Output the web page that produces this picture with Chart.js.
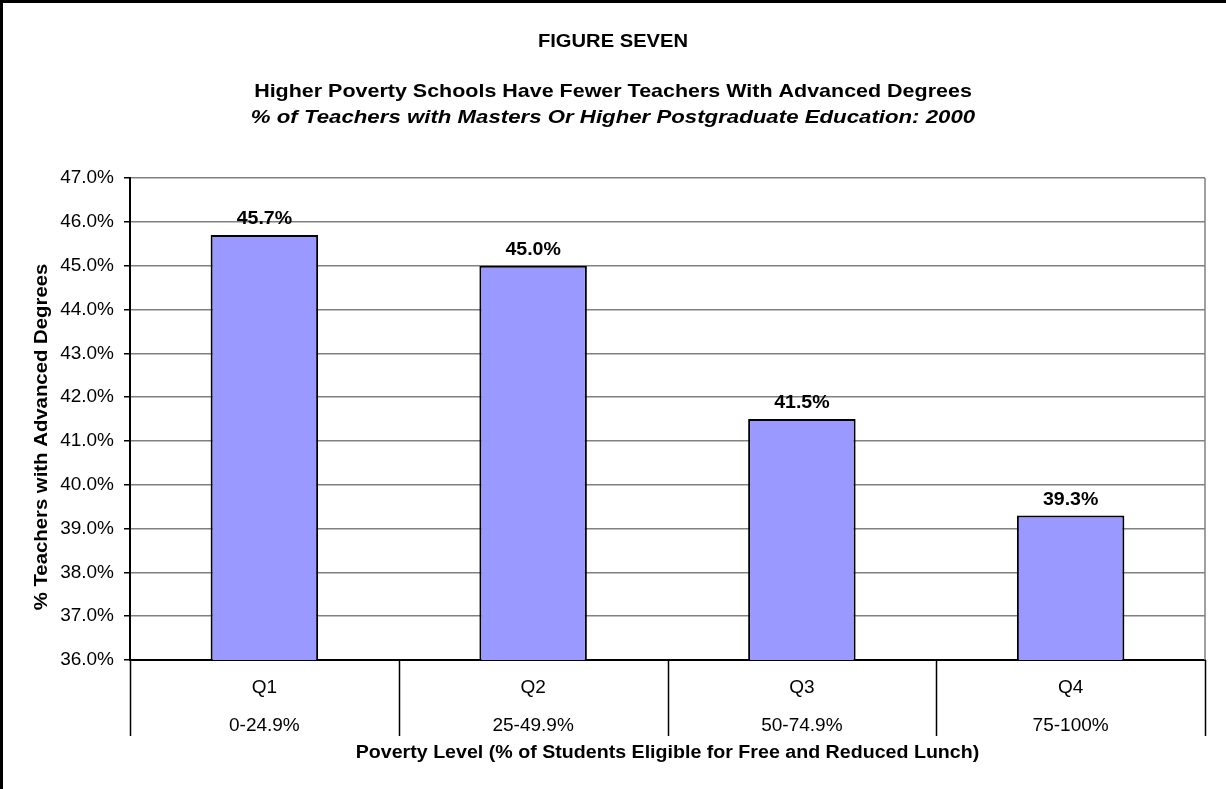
<!DOCTYPE html>
<html>
<head>
<meta charset="utf-8">
<script src="https://cdn.jsdelivr.net/npm/chart.js@4.4.1/dist/chart.umd.min.js"></script>
<style>
  html, body { margin: 0; padding: 0; background: #fff; }
  #wrap { position: relative; width: 1226px; height: 789px; }
</style>
</head>
<body>
<div id="wrap"><canvas id="fig7" width="1226" height="789"></canvas></div>
<script>
// --- datos ---
const quarters = ['Q1', 'Q2', 'Q3', 'Q4'];
const povertyRanges = ['0-24.9%', '25-49.9%', '50-74.9%', '75-100%'];
const pctTeachers = [45.7, 45.0, 41.5, 39.3];
const yMin = 36, yMax = 47, yStep = 1;

const figLabel = 'FIGURE SEVEN';
const mainTitle = 'Higher Poverty Schools Have Fewer Teachers With Advanced Degrees';
const subTitle = '% of Teachers with Masters Or Higher Postgraduate Education: 2000';
const yTitle = '% Teachers with Advanced Degrees';
const xTitle = 'Poverty Level (% of Students Eligible for Free and Reduced Lunch)';

const FONT = '"Liberation Sans", Arial, sans-serif';

// texto centrado, estirado en horizontal para igualar el ancho del original
function wideText(ctx, text, x, y, font, sx, angle) {
    ctx.save();
    ctx.font = font;
    ctx.translate(x, y);
    if (angle) ctx.rotate(angle);
    ctx.scale(sx, 1);
    ctx.fillText(text, 0, 0);
    ctx.restore();
}

// marco, títulos, separadores de categorías y etiquetas de valor
const decorPlugin = {
    id: 'decor',
    beforeDraw(chart) {
        const ctx = chart.ctx;
        ctx.save();
        ctx.fillStyle = '#fff';
        ctx.fillRect(0, 0, chart.width, chart.height);
        ctx.fillStyle = '#000';
        ctx.fillRect(0, 0, chart.width, 3);
        ctx.fillRect(0, 0, 3, chart.height);
        ctx.restore();
    },
    afterDraw(chart) {
        const ctx = chart.ctx;
        const area = chart.chartArea;
        const x = chart.scales.x;
        ctx.save();

        // borde derecho del área
        ctx.strokeStyle = '#808080';
        ctx.lineWidth = 1.5;
        ctx.beginPath();
        ctx.moveTo(area.right, area.top);
        ctx.lineTo(area.right, area.bottom);
        ctx.stroke();

        // separadores bajo el eje de categorías
        const n = quarters.length;
        const step = (x.right - x.left) / n;
        ctx.strokeStyle = '#000';
        ctx.lineWidth = 1.5;
        for (let i = 0; i <= n; i++) {
            const px = Math.round(x.left + i * step) + 0.5;
            ctx.beginPath();
            ctx.moveTo(px, area.bottom);
            ctx.lineTo(px, area.bottom + 76);
            ctx.stroke();
        }

        // títulos
        ctx.fillStyle = '#000';
        ctx.textAlign = 'center';
        ctx.textBaseline = 'middle';
        const cx = chart.width / 2;
        wideText(ctx, figLabel, cx, 42, 'bold 18px ' + FONT, 1.12);
        wideText(ctx, mainTitle, cx, 92, 'bold 19px ' + FONT, 1.13);
        wideText(ctx, subTitle, cx, 118, 'italic bold 19px ' + FONT, 1.17);

        // títulos de ejes
        wideText(ctx, xTitle, (area.left + area.right) / 2, 753, 'bold 18px ' + FONT, 1.09);
        wideText(ctx, yTitle, 42, 437, 'bold 18px ' + FONT, 1.13, -Math.PI / 2);

        // etiquetas de valor sobre las barras
        const meta = chart.getDatasetMeta(0);
        meta.data.forEach((bar, i) => {
            wideText(ctx, pctTeachers[i].toFixed(1) + '%', bar.x, bar.y - 16, 'bold 19px ' + FONT, 1.03);
        });
        ctx.restore();
    }
};

new Chart(document.getElementById('fig7'), {
    type: 'bar',
    data: {
        labels: quarters.map((q, i) => [q, povertyRanges[i]]),
        datasets: [{
            data: pctTeachers,
            backgroundColor: '#9999FF',
            borderColor: '#000',
            borderWidth: 2,
            borderSkipped: false,
            barPercentage: 0.4,
            categoryPercentage: 1.0
        }]
    },
    options: {
        responsive: false,
        animation: false,
        devicePixelRatio: 1,
        layout: { padding: { left: 3, right: 21, top: 178, bottom: 0 } },
        plugins: {
            legend: { display: false },
            tooltip: { enabled: false },
            title: { display: false }
        },
        scales: {
            x: {
                grid: { display: false },
                border: { display: true, color: '#000', width: 2 },
                ticks: {
                    color: '#000',
                    padding: 1,
                    font: { family: FONT, size: 19, lineHeight: 2 },
                    maxRotation: 0
                },
                afterFit(scale) { scale.height = 129; }
            },
            y: {
                min: yMin,
                max: yMax,
                grid: {
                    color: '#808080',
                    lineWidth: 1.5,
                    tickColor: '#000',
                    tickLength: 6
                },
                border: { display: true, color: '#000', width: 2 },
                ticks: {
                    stepSize: yStep,
                    color: '#000',
                    padding: 10,
                    font: { family: FONT, size: 19 },
                    callback: v => v.toFixed(1) + '%'
                },
                afterFit(scale) { scale.width = 127; }
            }
        }
    },
    plugins: [decorPlugin]
});
</script>
</body>
</html>
